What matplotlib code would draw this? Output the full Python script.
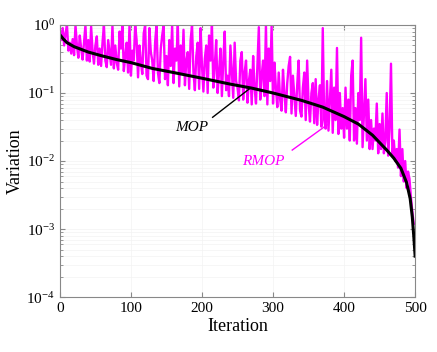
"""MOP / RMOP variation vs iteration (log scale)."""
import numpy as np
import matplotlib
matplotlib.use("Agg")
import matplotlib.pyplot as plt

plt.rcParams['font.family'] = ['Liberation Serif', 'DejaVu Serif']
plt.rcParams['mathtext.fontset'] = 'custom'
plt.rcParams['mathtext.rm'] = 'Liberation Serif'
plt.rcParams['mathtext.it'] = 'Liberation Serif:italic'

# MOP curve (smooth)
mop_x = [0, 5, 10, 20, 40, 60, 80, 100, 130, 160, 200, 240, 270, 300, 340,
         370, 400, 420, 440, 460, 470, 480, 488, 493, 496, 498, 500]
mop_y = [0.72, 0.62, 0.55, 0.48, 0.40, 0.35, 0.31, 0.28, 0.23, 0.20, 0.165,
         0.135, 0.118, 0.10, 0.078, 0.062, 0.045, 0.035, 0.024, 0.0145, 0.011,
         0.0078, 0.0048, 0.0028, 0.0015, 0.0008, 0.0004]

# RMOP noisy curve, every 2nd iteration (one row = 20 iterations)
rmop_x = list(range(0, 499, 2))
rmop_y = [
    0.85, 0.6, 0.9, 0.5, 0.75, 1.0, 0.42, 0.55, 0.38, 0.62,       # 0
    0.36, 1.0, 0.5, 0.33, 0.7, 0.45, 0.31, 0.55, 1.0, 0.3,        # 20
    0.6, 0.29, 0.95, 0.42, 0.27, 0.5, 0.68, 0.26, 0.45, 0.25,     # 40
    0.55, 1.0, 0.3, 0.24, 0.6, 0.4, 0.26, 1.0, 0.23, 0.5,         # 60
    0.28, 0.22, 0.8, 0.45, 1.0, 0.21, 0.35, 0.55, 0.2, 1.0,       # 80
    0.18, 0.42, 0.3, 1.0, 0.6, 0.17, 0.5, 0.28, 0.19, 0.75,       # 100
    1.0, 0.18, 0.16, 0.9, 0.4, 0.3, 0.15, 0.55, 1.0, 0.2,         # 120
    0.14, 0.45, 0.7, 1.0, 0.16, 0.35, 0.13, 0.6, 0.25, 1.0,       # 140
    0.14, 0.45, 0.3, 1.0, 0.125, 0.5, 0.2, 0.85, 0.13, 0.3,       # 160
    0.4, 0.115, 0.6, 1.0, 0.2, 0.11, 0.35, 0.55, 0.115, 0.9,      # 180
    0.25, 0.105, 0.32, 0.5, 0.1, 0.7, 0.3, 1.0, 0.12, 0.25,       # 200
    0.6, 0.1, 0.2, 0.45, 0.09, 0.3, 0.8, 0.11, 0.18, 0.09,        # 220
    0.5, 0.2, 0.085, 0.55, 0.15, 0.12, 0.078, 0.3, 0.4, 0.08,     # 240
    0.2, 0.3, 0.072, 0.15, 0.22, 0.068, 0.35, 0.12, 0.07, 0.25,   # 260
    0.93, 0.08, 0.18, 0.3, 0.09, 1.0, 0.068, 0.45, 0.15, 1.0,     # 280
    0.07, 0.28, 0.12, 0.062, 0.2, 0.08, 0.055, 0.22, 0.1, 0.052,  # 300
    0.14, 0.25, 0.34, 0.05, 0.18, 0.09, 0.046, 0.13, 0.3, 0.055,  # 320
    0.045, 0.12, 0.2, 0.04, 0.3, 0.07, 0.038, 0.1, 0.14, 0.036,   # 340
    0.16, 0.034, 0.08, 0.13, 0.032, 0.9, 0.04, 0.03, 0.15, 0.028, # 360
    0.08, 0.22, 0.026, 0.12, 0.04, 0.46, 0.025, 0.1, 0.03, 0.06,  # 380
    0.022, 0.12, 0.03, 0.08, 0.02, 0.18, 0.3, 0.02, 0.06, 0.018,  # 400
    0.1, 0.04, 0.65, 0.016, 0.05, 0.16, 0.02, 0.08, 0.015, 0.04,  # 420
    0.015, 0.03, 0.02, 0.07, 0.013, 0.035, 0.015, 0.05, 0.013, 0.02,   # 440
    0.1, 0.012, 0.03, 0.27, 0.012, 0.02, 0.01, 0.015, 0.008, 0.029,    # 460
    0.006, 0.015, 0.005, 0.01, 0.004, 0.007, 0.0055, 0.003, 0.0018, 0.0012,  # 480
]

fig = plt.figure(figsize=(4.37, 3.52), dpi=100)
ax = fig.add_axes([0.137, 0.156, 0.813, 0.773])

ax.plot(rmop_x, rmop_y, color='#ff00ff', lw=1.7)
ax.plot(mop_x, mop_y, color='black', lw=2.2)

ax.set_yscale('log')
ax.set_xlim(0, 500)
ax.set_ylim(1e-4, 1)
ax.set_xticks([0, 100, 200, 300, 400, 500])
ax.set_xlabel('Iteration', fontsize=13, labelpad=2)
ax.set_ylabel('Variation', fontsize=13, labelpad=2)
ax.tick_params(which='both', direction='in', top=True, right=True,
               labelsize=11, color='#888888')
ax.tick_params(which='minor', length=2)
ax.tick_params(which='major', length=3.5)
for s in ax.spines.values():
    s.set_color('#888888')
    s.set_linewidth(0.8)
ax.grid(True, which='both', color='#f3f3f3', lw=0.5)
ax.set_axisbelow(True)

# annotations
ax.plot([215, 268], [0.044, 0.118], color='black', lw=1)
ax.text(186, 0.031, 'MOP', fontsize=11, style='italic', ha='center', va='center')
ax.plot([327, 376], [0.0145, 0.034], color='#ff00ff', lw=1)
ax.text(286, 0.0097, 'RMOP', fontsize=11, style='italic', color='#ff00ff',
        ha='center', va='center')

fig.savefig('out.png', dpi=100)
